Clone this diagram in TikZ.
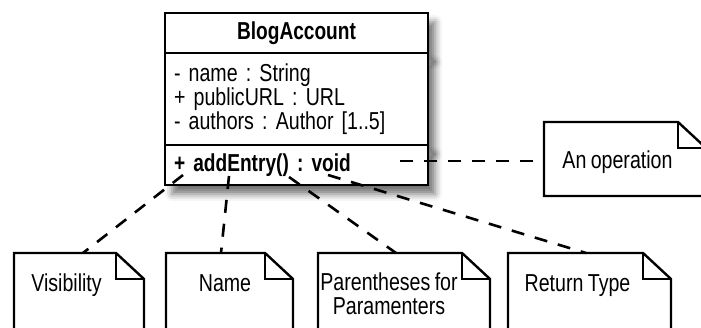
\documentclass[tikz,border=0pt]{standalone}
\usepackage{fontspec}
\setmainfont{Liberation Sans}[FakeStretch=0.8, WordSpace=0.8, BoldFeatures={FakeStretch=0.78}]
\usetikzlibrary{shadows.blur}
\newcommand\umlfont{\fontsize{24.5}{24}\selectfont\frenchspacing}

\begin{document}
\begin{tikzpicture}[x=1pt,y=-1pt, font=\umlfont,
  compart/.style={draw, line width=2.4pt, fill=white, minimum width=263pt, anchor=north, inner sep=0pt, outer sep=0pt,
    blur shadow={shadow xshift=7pt, shadow yshift=-9pt, shadow blur radius=7pt, shadow opacity=55}},
  notebody/.style={minimum height=110pt, anchor=north west, inner sep=0pt, outer sep=0pt},
  notelbl/.style={align=center, inner sep=0pt, font=\umlfont},
  link/.style={line width=2.6pt, dash pattern=on 13pt off 11pt}]
\useasboundingbox (0,0) rectangle (701,327);
\clip (0,0) rectangle (701,327);

% class box
\node[compart, minimum height=40pt, font=\umlfont\bfseries] (cls-name) at (296.5,13) {BlogAccount};
\node[compart, minimum height=92pt, align=left, text width=245pt] (cls-attr) at (cls-name.south)
  {- name : String\\+ publicURL : URL\\- authors : Author [1..5]};
\node[compart, minimum height=40pt, align=left, text width=245pt, font=\umlfont\bfseries] (cls-op) at (cls-attr.south)
  {+ addEntry() : void};

% notes
\node[notebody, minimum width=102pt] (vis) at (14,253) {};
\node[notebody, minimum width=99pt] (nam) at (166,253) {};
\node[notebody, minimum width=144pt] (par) at (318,253) {};
\node[notebody, minimum width=135pt] (ret) at (508,253) {};
\node[notebody, minimum width=134pt, minimum height=74pt] (oper) at (544,122) {};
\foreach \n in {vis,nam,par,ret,oper} {
  \draw[line width=2.4pt] (\n.south west) -- (\n.north west) -- (\n.north east)
    -- ([xshift=28pt,yshift=-26pt]\n.north east) -- ([xshift=28pt]\n.south east) -- cycle;
  \draw[line width=2.4pt] (\n.north east) |- ([xshift=28pt,yshift=-26pt]\n.north east);
}
\node[notelbl, anchor=base] (vis-l) at (66.5,291) {Visibility};
\node[notelbl, anchor=base] (nam-l) at (225,291) {Name};
\node[notelbl] (par-l) at (389,294) {Parentheses for\\Paramenters};
\node[notelbl, anchor=base] (ret-l) at (577.5,291) {Return Type};
\node[notelbl, anchor=base] (oper-l) at (617.5,168) {An operation};

% connectors
\coordinate (p-vis) at (183,175);
\coordinate (p-nam) at (229,176);
\coordinate (p-par) at (289,177);
\coordinate (p-ret) at (328,175);
\coordinate (p-op) at (400,161);
\draw[link] (p-vis) -- ([xshift=18pt]vis.north);
\draw[link] (p-nam) -- ([xshift=5.5pt]nam.north);
\draw[link] (p-par) -- ([xshift=6pt]par.north);
\draw[link] (p-ret) -- ([xshift=10.5pt]ret.north);
\draw[link] (p-op) -- (p-op -| oper.west);
\end{tikzpicture}
\end{document}
